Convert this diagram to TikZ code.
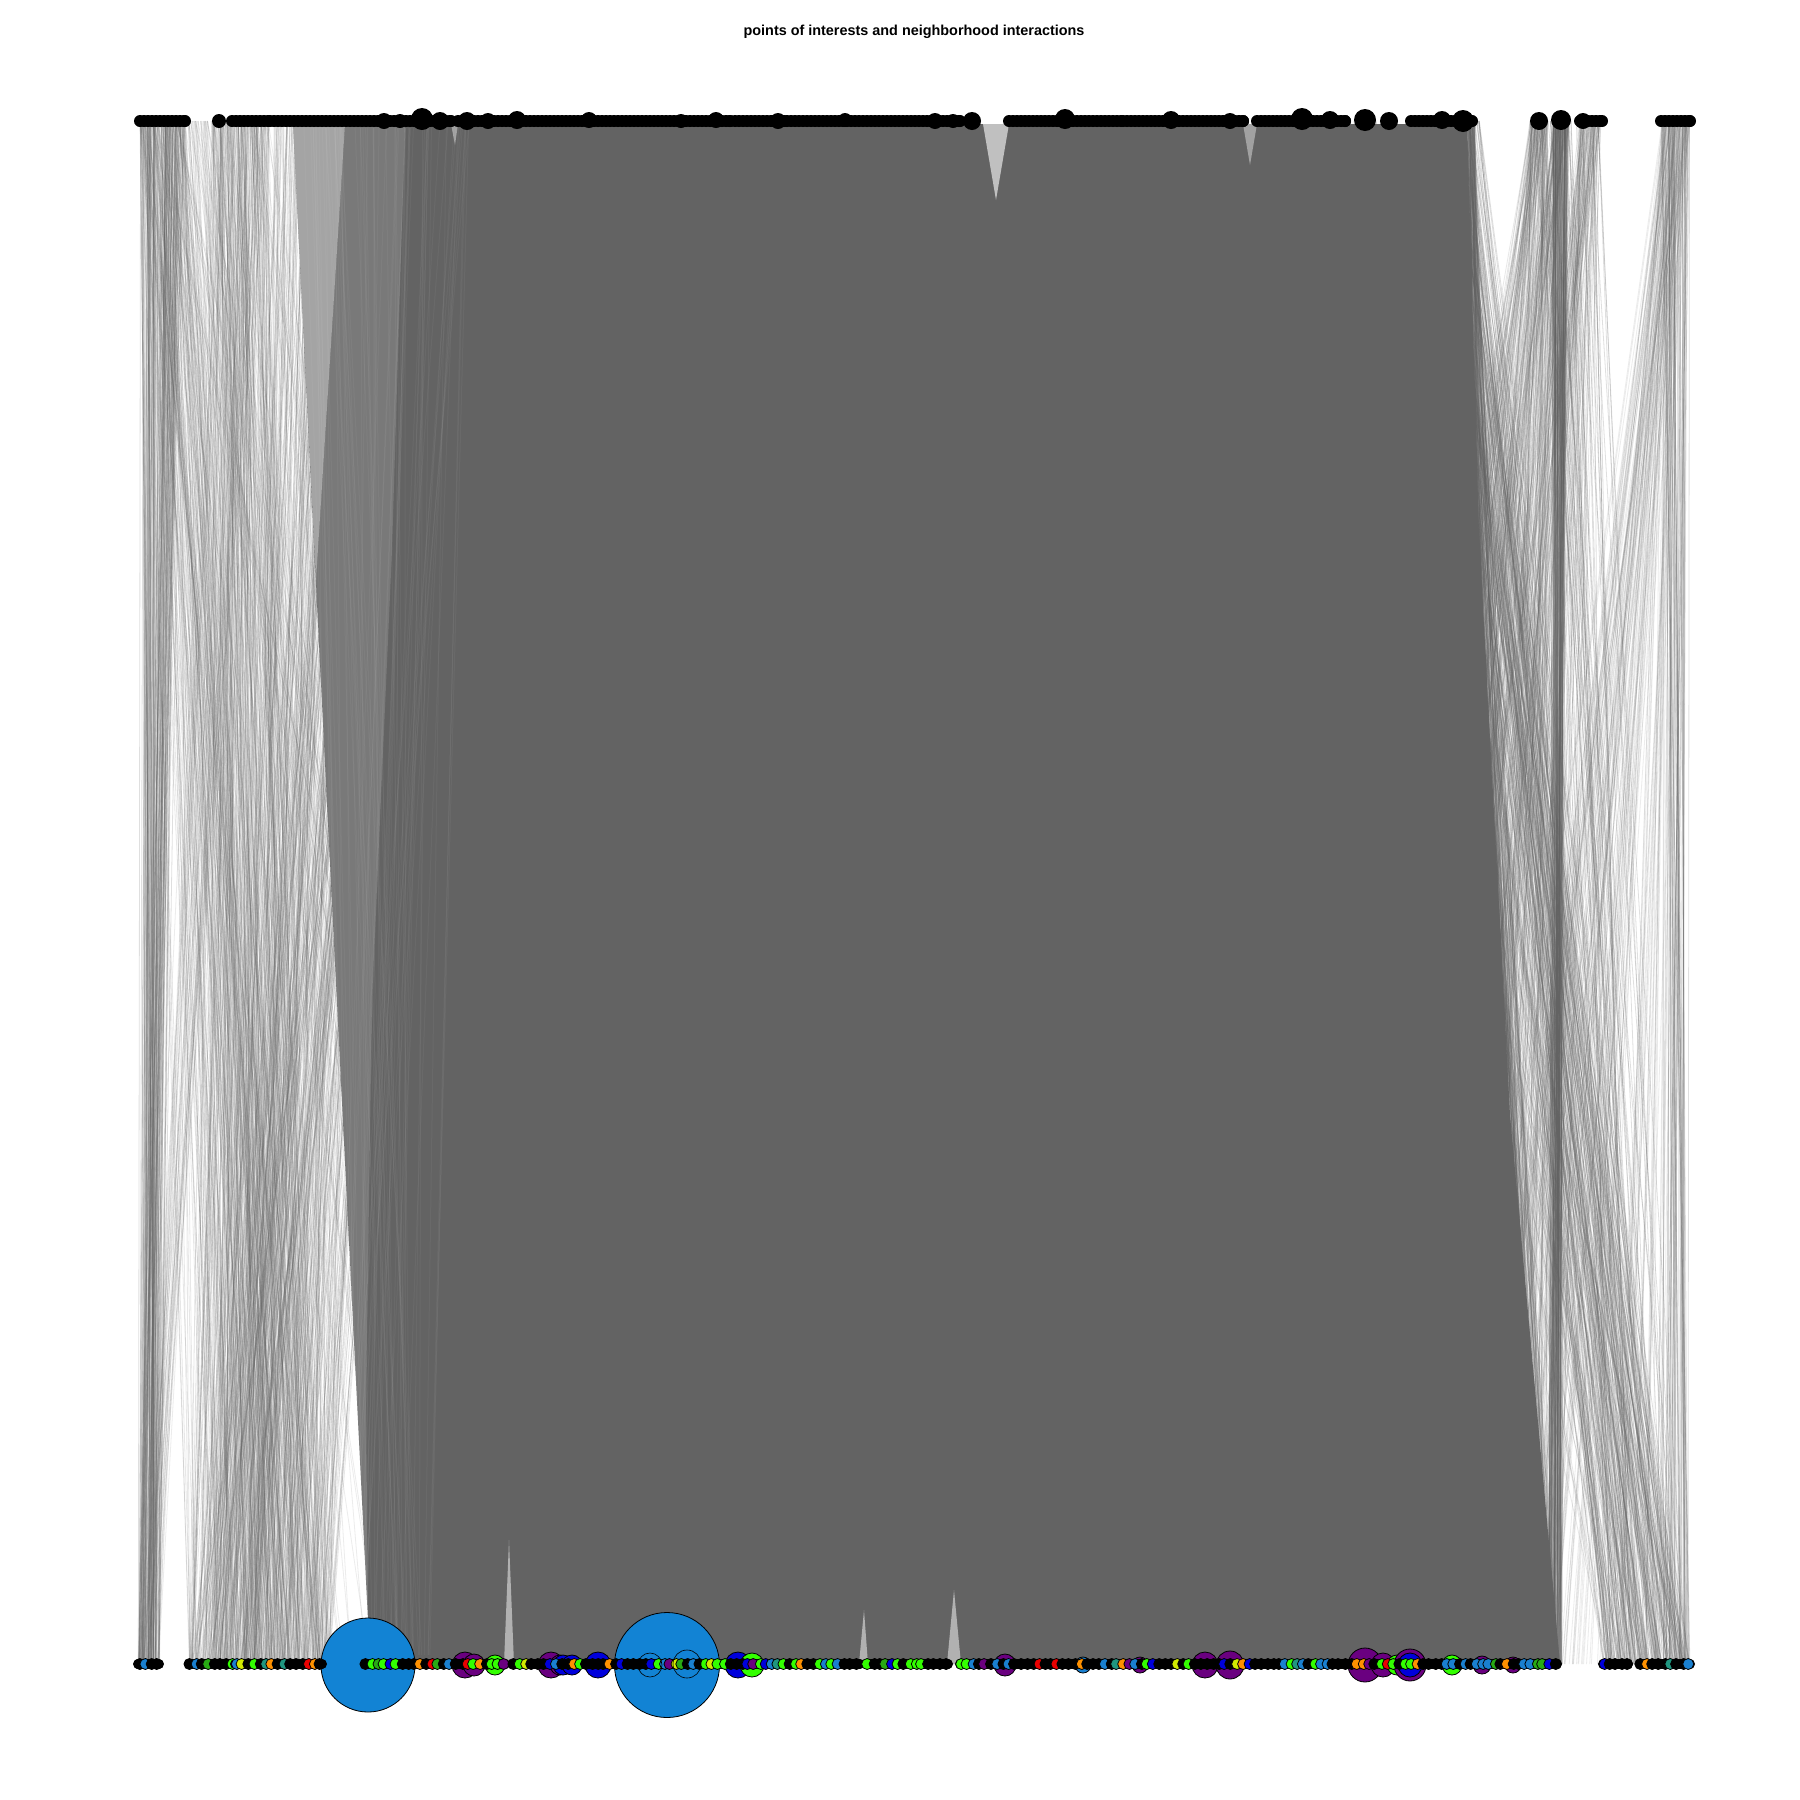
\documentclass[tikz,border=0pt]{standalone}
\usepackage{fontspec}
\setmainfont{Liberation Sans}
\definecolor{edgec}{RGB}{99,99,99}
\definecolor{bigblue}{RGB}{18,131,212}
\definecolor{lime}{RGB}{51,255,0}
\definecolor{purp}{RGB}{106,0,128}
\definecolor{nblue}{RGB}{0,0,220}
\definecolor{sblue}{RGB}{26,128,208}
\definecolor{orng}{RGB}{255,145,0}
\definecolor{teal2}{RGB}{32,150,128}
\definecolor{yel}{RGB}{210,235,0}
\definecolor{red2}{RGB}{235,0,0}
\definecolor{dgreen}{RGB}{40,170,20}
\definecolor{lgray}{RGB}{200,200,200}
\tikzset{
  bignode/.style={draw=black, line width=0.8pt},
  ringnode/.style={draw=black, line width=0.6pt},
}
\newcommand\edgebundle[7]{%
  \foreach \i in {1,...,#1}{%
    \pgfmathsetmacro\ta{#2+rnd*(#3-#2)}%
    \pgfmathsetmacro\tb{#4+rnd*(#5-#4)}%
    \draw[edgec, draw opacity=#6, line width=#7] (\ta,121) -- (\tb,1664);
  }}
\newcommand\lightbundle[7]{%
  \foreach \i in {1,...,#1}{%
    \pgfmathsetmacro\ta{#2+rnd*(#3-#2)}%
    \pgfmathsetmacro\tb{#4+rnd*(#5-#4)}%
    \draw[white, draw opacity=#6, line width=#7] (\ta,128) -- (\tb,1655);
  }}
\newcommand\topseg[2]{%
  \pgfmathtruncatemacro\nn{(#2-#1)/4}%
  \foreach \k in {0,...,\nn}{\fill[black] ({#1+4*\k},121) circle (6pt);}%
  \fill[black] (#2,121) circle (6pt);}
\newcommand\botseg[2]{%
  \fill[black] (#1,1659) rectangle (#2,1669);
  \fill[black] (#1,1664) circle (5pt);
  \fill[black] (#2,1664) circle (5pt);
  \pgfmathtruncatemacro\nn{(#2-#1)/6}%
  \foreach \k in {0,...,\nn}{%
    \pgfmathrandominteger{\ci}{1}{36}%
    \pgfmathsetmacro\xx{#1+6*\k+rnd*2}%
    \edef\cc{\ifcase\ci black\or lime\or lime\or lime\or lime\or lime\or sblue\or sblue\or sblue\or sblue\or nblue\or nblue\or orng\or orng\or dgreen\or dgreen\or teal2\or yel\or purp\or red2\else black\fi}%
    \filldraw[fill=\cc, draw=black, line width=0.8pt] (\xx,1664) circle (5.5pt);
  }}
\begin{document}
\begin{tikzpicture}[x=1pt,y=-1pt]
\useasboundingbox (0,0) rectangle (1800,1800);
\fill[white] (0,0) rectangle (1800,1800);
\pgfmathsetseed{11}
% ---------- left edges ----------
\edgebundle{120}{140}{185}{138}{160}{0.2}{0.8pt}
\edgebundle{80}{140}{185}{189}{322}{0.15}{0.8pt}
\edgebundle{100}{212}{270}{189}{322}{0.18}{0.8pt}
\edgebundle{40}{212}{270}{138}{160}{0.12}{0.8pt}
\edgebundle{150}{140}{270}{230}{330}{0.12}{0.8pt}
\edgebundle{350}{273}{460}{189}{330}{0.15}{0.8pt}
\edgebundle{60}{140}{270}{330}{520}{0.12}{0.8pt}
% ---------- dense core (left edge follows the fan into the big node) ----------
\fill[edgec] (293,124) -- (1467,124) -- (1478,520) -- (1510,1115) -- (1560,1664)
  -- (368,1664) -- (368,1620) -- cycle;
% lighter fan near the top and medium band beside it
\fill[white, fill opacity=0.42] (293,124) -- (345,124) -- (316,580) -- cycle;
\fill[white, fill opacity=0.14] (345,124) -- (405,124) -- (392,550) -- (372,1000)
  -- (366,1400) -- (368,1620) -- (316,580) -- cycle;
% light streaks inside the mass, near the left
\lightbundle{70}{300}{470}{330}{430}{0.04}{1pt}
% ---------- right edges ----------
\edgebundle{220}{1440}{1475}{1470}{1560}{0.2}{1pt}
\edgebundle{120}{1530}{1548}{1250}{1560}{0.15}{0.8pt}
\edgebundle{70}{1553}{1569}{1548}{1562}{0.3}{0.8pt}
\edgebundle{90}{1553}{1569}{1300}{1557}{0.15}{0.8pt}
\edgebundle{90}{1580}{1602}{1350}{1560}{0.15}{0.8pt}
\edgebundle{140}{1661}{1690}{1440}{1660}{0.12}{0.8pt}
\edgebundle{50}{1661}{1690}{1661}{1690}{0.2}{0.8pt}
\edgebundle{160}{1411}{1480}{1603}{1690}{0.2}{0.8pt}
\edgebundle{50}{1256}{1400}{1603}{1690}{0.15}{0.8pt}
\edgebundle{50}{1530}{1602}{1603}{1690}{0.2}{0.8pt}
% ---------- gaps in the mass ----------
\fill[white, fill opacity=0.6] (983,124) -- (1009,124) -- (996,200) -- cycle;
\fill[white, fill opacity=0.4] (1243,124) -- (1257,124) -- (1250,165) -- cycle;
\fill[white, fill opacity=0.4] (451,124) -- (458,124) -- (455,145) -- cycle;
\fill[white, fill opacity=0.5] (504,1664) -- (514,1664) -- (509,1540) -- cycle;
\fill[white, fill opacity=0.5] (859,1664) -- (868,1664) -- (864,1610) -- cycle;
\fill[white, fill opacity=0.5] (947,1664) -- (961,1664) -- (954,1590) -- cycle;
% ---------- bottom big nodes ----------
\filldraw[fill=bigblue, bignode] (368,1665) circle (47pt);
\filldraw[fill=bigblue, bignode] (667,1665) circle (52.5pt);
\foreach \xx/\rr/\cl in {465/13/purp, 474/11/purp, 495/10/lime, 551/13/purp, 560/10/purp,
   563/10/nblue, 572/10/nblue, 598/13/nblue, 738/13/nblue, 752/12/lime,
   1005/11/purp, 1083/8/sblue, 1140/8/purp, 1205/13/purp, 1230/14/purp,
   1365/17/purp, 1383/12/purp, 1397/10/lime, 1410/16/purp, 1410/12/nblue,
   1452/10/lime, 1482/9/purp, 1513/8/purp}{%
  \filldraw[fill=\cl, bignode] (\xx,1665) circle (\rr pt);}
% ---------- bottom row ----------
\botseg{138}{159}
\botseg{189}{233}
\botseg{235}{322}
\botseg{365}{505}
\botseg{513}{860}
\botseg{867}{948}
\botseg{960}{1557}
\botseg{1603}{1628}
\botseg{1640}{1690}
\draw[ringnode] (650,1665) circle (12pt);
\draw[ringnode] (687,1664) circle (14pt);
% ---------- top row ----------
\topseg{140}{185}
\topseg{219}{219}
\topseg{232}{270}
\topseg{274}{451}
\topseg{458}{730}
\topseg{735}{784}
\topseg{787}{960}
\topseg{972}{974}
\topseg{1009}{1123}
\topseg{1127}{1243}
\topseg{1257}{1345}
\topseg{1411}{1472}
\topseg{1580}{1602}
\topseg{1661}{1690}
\foreach \xx/\yy/\rr in {219/121/7, 384/121/8, 400/121/7, 422/119/11, 440/121/9,
   467/121/9, 488/121/8, 517/120/9, 589/120/8, 681/121/7, 716/120/8, 778/121/8,
   845/120/7, 935/121/8, 953/121/7, 972/121/9, 1065/119/10, 1171/120/9, 1230/121/8,
   1302/119/11, 1330/120/9, 1365/120/11, 1389/121/9, 1442/120/9, 1463/121/11,
   1539/121/9, 1561/120/10, 1583/121/8}{%
  \fill[black] (\xx,\yy) circle (\rr pt);}
% ---------- title ----------
\node[anchor=base, inner sep=0pt, font=\fontsize{14.4}{16}\selectfont\bfseries] (title)
  at (914,35.5) {points of interests and neighborhood interactions};
\end{tikzpicture}
\end{document}
